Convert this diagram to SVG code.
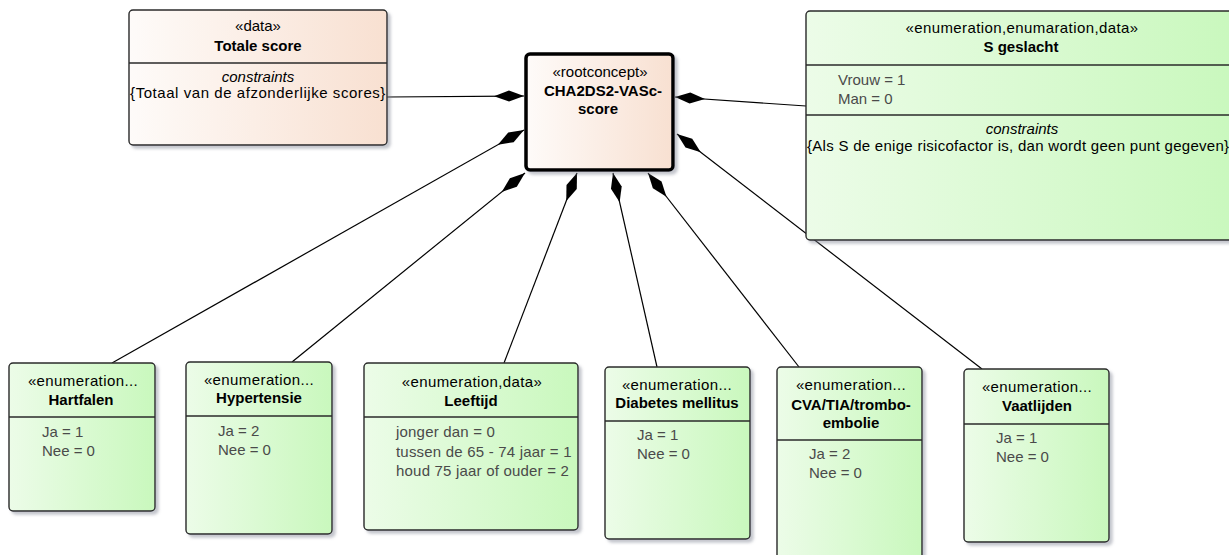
<svg xmlns="http://www.w3.org/2000/svg" width="1229" height="555" viewBox="0 0 1229 555">
<defs>
<style>
text{font-family:"Liberation Sans",Arial,sans-serif;font-size:15px;fill:#000}
.c{text-anchor:middle}
.b{font-weight:bold}
.i{font-style:italic}
.st{letter-spacing:0.4px}
.a{fill:#4a4a4a}
.box{stroke:#2a2a2a;stroke-width:1.4}
.g{fill:url(#green)}
.p{fill:url(#peach)}
.div{stroke:#2a2a2a;stroke-width:1.4}
.ln{stroke:#000;stroke-width:1.2;fill:none;marker-start:url(#dia)}
</style>
<linearGradient id="green" x1="0" y1="0" x2="1" y2="0">
<stop offset="0" stop-color="#ecfce8"/>
<stop offset="1" stop-color="#c9f8bd"/>
</linearGradient>
<linearGradient id="peach" x1="0" y1="0" x2="1" y2="0">
<stop offset="0" stop-color="#fefbf9"/>
<stop offset="1" stop-color="#f8e0d1"/>
</linearGradient>
<filter id="sh" x="-10%" y="-10%" width="130%" height="130%">
<feDropShadow dx="3" dy="3" stdDeviation="1.5" flood-color="#7a8090" flood-opacity="0.45"/>
</filter>
<marker id="dia" viewBox="0 -6 30 12" refX="0" refY="0" markerWidth="30" markerHeight="12" markerUnits="userSpaceOnUse" orient="auto">
<path d="M0,0 L15,-5.5 L30,0 L15,5.5 Z" fill="#000"/>
</marker>
</defs>

<g id="connectors">
<path class="ln" d="M524,96 L387,97"/>
<path class="ln" d="M675,97 L806,106"/>
<path class="ln" d="M524,130 L112,363"/>
<path class="ln" d="M525,173 L292,362"/>
<path class="ln" d="M577,173 L504,363"/>
<path class="ln" d="M613,173 L657,367"/>
<path class="ln" d="M648,173 L799,367"/>
<path class="ln" d="M677,134 L982,369"/>
</g>

<g id="totale-score">
<rect class="box p" x="129" y="10" width="258" height="135" rx="4" filter="url(#sh)"/>
<line class="div" x1="129" y1="63" x2="387" y2="63"/>
<text class="c" x="258" y="31">«data»</text>
<text class="c b" x="258" y="51">Totale score</text>
<text class="c i" x="258" y="82">constraints</text>
<text class="c" x="258" y="98" style="letter-spacing:0.55px">{Totaal van de afzonderlijke scores}</text>
</g>

<g id="root">
<rect x="526" y="54" width="147" height="116" rx="4" fill="url(#peach)" stroke="#000" stroke-width="3.5" filter="url(#sh)"/>
<text class="c" x="600" y="77">«rootconcept»</text>
<text class="c b" x="603" y="96">CHA2DS2-VASc-</text>
<text class="c b" x="598" y="114">score</text>
</g>

<g id="s-geslacht">
<rect class="box g" x="806" y="11" width="432" height="229" rx="4" filter="url(#sh)"/>
<line class="div" x1="806" y1="65" x2="1238" y2="65"/>
<line class="div" x1="806" y1="115" x2="1238" y2="115"/>
<text class="c st" x="1022" y="33">«enumeration,enumaration,data»</text>
<text class="c b" x="1021" y="52">S geslacht</text>
<text class="a" x="838" y="85">Vrouw = 1</text>
<text class="a" x="838" y="104">Man = 0</text>
<text class="c i" x="1022" y="134">constraints</text>
<text x="807" y="151" style="letter-spacing:0.28px">{Als S de enige risicofactor is, dan wordt geen punt gegeven}</text>
</g>

<g id="hartfalen">
<rect class="box g" x="9" y="363" width="146" height="148" rx="4" filter="url(#sh)"/>
<line class="div" x1="9" y1="417" x2="155" y2="417"/>
<text class="c st" x="83" y="386">«enumeration...</text>
<text class="c b" x="81" y="405">Hartfalen</text>
<text class="a" x="42" y="437">Ja = 1</text>
<text class="a" x="42" y="456">Nee = 0</text>
</g>

<g id="hypertensie">
<rect class="box g" x="186" y="362" width="146" height="172" rx="4" filter="url(#sh)"/>
<line class="div" x1="186" y1="416" x2="332" y2="416"/>
<text class="c st" x="259" y="385">«enumeration...</text>
<text class="c b" x="259" y="403">Hypertensie</text>
<text class="a" x="218" y="436">Ja = 2</text>
<text class="a" x="218" y="455">Nee = 0</text>
</g>

<g id="leeftijd">
<rect class="box g" x="364" y="363" width="214" height="167" rx="4" filter="url(#sh)"/>
<line class="div" x1="364" y1="417" x2="578" y2="417"/>
<text class="c st" x="472" y="387">«enumeration,data»</text>
<text class="c b" x="471" y="406">Leeftijd</text>
<text class="a" x="396" y="437" style="letter-spacing:0.2px">jonger dan = 0</text>
<text class="a" x="396" y="457" style="letter-spacing:0.2px">tussen de 65 - 74 jaar = 1</text>
<text class="a" x="396" y="476" style="letter-spacing:0.2px">houd 75 jaar of ouder = 2</text>
</g>

<g id="diabetes">
<rect class="box g" x="605" y="367" width="145" height="172" rx="4" filter="url(#sh)"/>
<line class="div" x1="605" y1="421" x2="750" y2="421"/>
<text class="c st" x="677" y="390">«enumeration...</text>
<text class="c b" x="677" y="408">Diabetes mellitus</text>
<text class="a" x="637" y="440">Ja = 1</text>
<text class="a" x="637" y="459">Nee = 0</text>
</g>

<g id="cva">
<rect class="box g" x="777" y="367" width="145" height="200" rx="4" filter="url(#sh)"/>
<line class="div" x1="777" y1="440" x2="922" y2="440"/>
<text class="c st" x="851" y="390">«enumeration...</text>
<text class="c b" x="851" y="410">CVA/TIA/trombo-</text>
<text class="c b" x="851" y="428">embolie</text>
<text class="a" x="809" y="459">Ja = 2</text>
<text class="a" x="809" y="478">Nee = 0</text>
</g>

<g id="vaatlijden">
<rect class="box g" x="964" y="369" width="145" height="173" rx="4" filter="url(#sh)"/>
<line class="div" x1="964" y1="424" x2="1109" y2="424"/>
<text class="c st" x="1037" y="392">«enumeration...</text>
<text class="c b" x="1037" y="411">Vaatlijden</text>
<text class="a" x="996" y="443">Ja = 1</text>
<text class="a" x="996" y="462">Nee = 0</text>
</g>
</svg>
